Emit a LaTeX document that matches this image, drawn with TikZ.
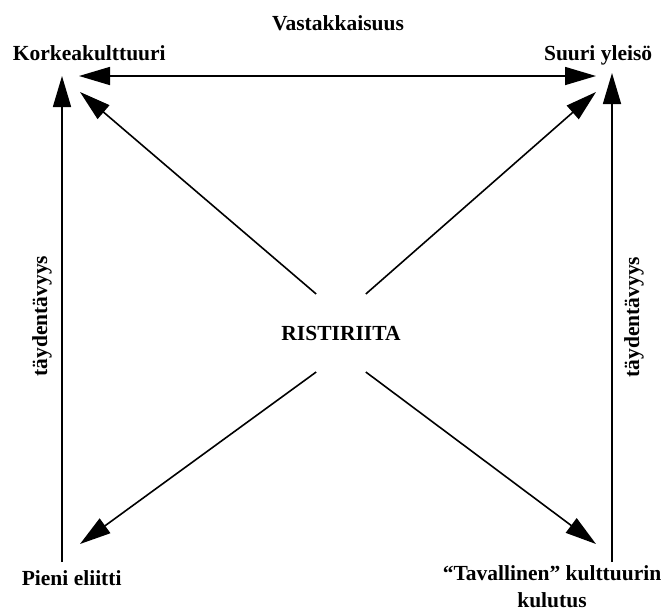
\documentclass[tikz,border=0pt]{standalone}
\usepackage{fontspec}
\setmainfont{Liberation Serif}
\usetikzlibrary{arrows.meta}

\begin{document}
\begin{tikzpicture}[x=1pt, y=-1pt, line width=1.6pt,
    >={Triangle[length=31pt, width=18pt]},
    term/.style={font=\bfseries\fontsize{21.5}{27}\selectfont, inner sep=0pt}]
    \useasboundingbox (0,0) rectangle (662,611);

    \node[term, anchor=base] (vast) at (338,30) {Vastakkaisuus};
    \node[term, anchor=base west] (korkea) at (12,60) {Korkeakulttuuri};
    \node[term, anchor=base east] (suuri) at (653,60) {Suuri yleisö};
    \node[term, anchor=base west] (pieni) at (21,585) {Pieni eliitti};
    \node[term, anchor=base, align=center] (tavall) at (552,607) {“Tavallinen” kulttuurin\\kulutus};
    \node[term, rotate=90, anchor=base] (taydV) at (47,316) {täydentävyys};
    \node[term, rotate=90, anchor=base] (taydO) at (639,317) {täydentävyys};
    \node[term, inner xsep=-35.5pt, inner ysep=31pt] (risti) at (341,333) {RISTIRIITA};

    \coordinate (korkea-h) at (79,76);
    \coordinate (korkea-d) at (80,92);
    \coordinate (korkea-v) at (62,76);
    \coordinate (suuri-h) at (596,76);
    \coordinate (suuri-d) at (596,92);
    \coordinate (suuri-v) at (612,73);
    \coordinate (pieni-d) at (80,544);
    \coordinate (pieni-v) at (62,562);
    \coordinate (tavall-d) at (596,544);
    \coordinate (tavall-v) at (612,562);

    \path[<->] (korkea-h) edge (suuri-h);
    \path[->]
    (pieni-v) edge (korkea-v)
    (tavall-v) edge (suuri-v)
    (risti.north west) edge (korkea-d)
    (risti.north east) edge (suuri-d)
    (risti.south west) edge (pieni-d)
    (risti.south east) edge (tavall-d);
\end{tikzpicture}
\end{document}
